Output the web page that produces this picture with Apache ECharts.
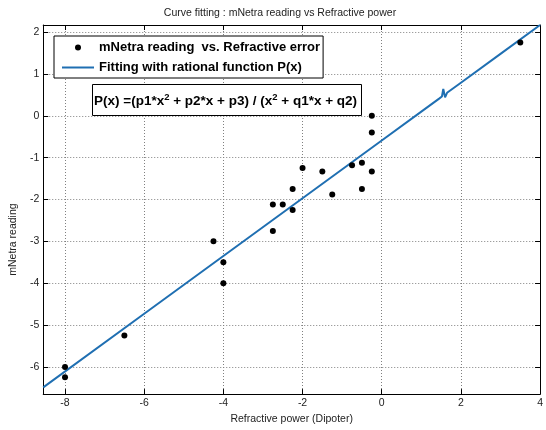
<!DOCTYPE html>
<html>
<head>
<meta charset="utf-8">
<script src="https://cdn.jsdelivr.net/npm/echarts@6/dist/echarts.min.js"></script>
<style>html,body{margin:0;padding:0;background:#fff}#c{width:546px;height:430px}</style>
</head>
<body>
<div id="c"></div>
<script>
// Measured data points (Refractive power, mNetra reading)
const scatterX = [-8, -8, -6.5, -4.25, -4, -4, -2.75, -2.75, -2.5, -2.25, -2.25, -2, -1.5, -1.25, -0.75, -0.5, -0.5, -0.25, -0.25, -0.25, 3.5];
const scatterY = [-6, -6.25, -5.25, -3, -3.5, -4, -2.12, -2.75, -2.12, -1.75, -2.25, -1.25, -1.33, -1.88, -1.18, -1.12, -1.75, 0, -0.4, -1.33, 1.75];
// Fitted rational curve read along its path
const fitX = [-8.55, -6, -4, -2, 0, 1, 1.45, 1.52, 1.555, 1.6, 1.65, 2, 3, 4];
const fitY = [-6.49, -4.73, -3.35, -1.97, -0.59, 0.10, 0.41, 0.46, 0.64, 0.44, 0.55, 0.79, 1.48, 2.17];
// Tick values
const xTicks = [-8, -6, -4, -2, 0, 2, 4];
const yTicks = [-6, -5, -4, -3, -2, -1, 0, 1, 2];

const scatterName = 'mNetra reading  vs. Refractive error';
const fitName = 'Fitting with rational function P(x)';
const FONT = 'Liberation Sans, Arial, sans-serif';

const chart = echarts.init(document.getElementById('c'), null, {renderer: 'canvas'});
const gridStyle = {show: true, lineStyle: {color: '#808080', width: 1, type: [1, 2]}};
const xBase = {type: 'value', min: -8.55, max: 4, axisLine: {onZero: false, lineStyle: {color: '#000', width: 1}}};
const yBase = {type: 'value', min: -6.65, max: 2.17, axisLine: {onZero: false, lineStyle: {color: '#000', width: 1}}};

chart.setOption({
  backgroundColor: '#fff',
  animation: false,
  title: [
    {text: 'Curve fitting : mNetra reading vs Refractive power', left: 280, textAlign: 'center', top: 7, padding: 0,
     textStyle: {fontSize: 10.5, fontWeight: 'normal', color: '#222', fontFamily: FONT, lineHeight: 12}},
    {text: '{n|P(x) =(p1*x}{s|2}{n| + p2*x + p3) / (x}{s|2}{n| + q1*x + q2)}', left: 92, top: 84,
     padding: [8, 5, 8, 2], borderColor: '#000', borderWidth: 1, backgroundColor: '#fff',
     textStyle: {fontFamily: FONT, fontWeight: 'bold', fontSize: 13.5, color: '#000',
       rich: {n: {fontFamily: FONT, fontWeight: 'bold', fontSize: 13.5, color: '#000', lineHeight: 16, verticalAlign: 'bottom'},
              s: {fontFamily: FONT, fontWeight: 'bold', fontSize: 9.5, color: '#000', lineHeight: 16, verticalAlign: 'top'}}}}
  ],
  legend: {
    orient: 'vertical', left: 54, top: 36, itemWidth: 32, itemHeight: 6, itemGap: 5,
    padding: [4, 3, 3, 7], borderColor: '#000', borderWidth: 1, backgroundColor: '#fff',
    textStyle: {fontSize: 13, fontWeight: 'bold', color: '#000', fontFamily: FONT, lineHeight: 15},
    data: [
      {name: scatterName},
      {name: fitName, itemStyle: {color: 'rgba(0,0,0,0)', borderColor: 'rgba(0,0,0,0)', borderWidth: 0}}
    ]
  },
  grid: {left: 39, right: 3, top: 25, bottom: 33, containLabel: false},
  xAxis: [
    Object.assign({}, xBase, {position: 'bottom', name: 'Refractive power (Dipoter)', nameLocation: 'middle', nameGap: 17,
      nameTextStyle: {fontSize: 10.5, color: '#222', fontFamily: FONT},
      axisTick: {show: true, inside: true, length: 5, lineStyle: {color: '#000'}, customValues: xTicks},
      axisLabel: {show: true, margin: 4, fontSize: 10.5, color: '#222', fontFamily: FONT, customValues: xTicks},
      splitLine: gridStyle}),
    Object.assign({}, xBase, {position: 'top',
      axisTick: {show: true, inside: true, length: 5, lineStyle: {color: '#000'}, customValues: xTicks},
      axisLabel: {show: false}, splitLine: {show: false}})
  ],
  yAxis: [
    Object.assign({}, yBase, {position: 'left', name: 'mNetra reading', nameLocation: 'middle', nameGap: 21,
      nameTextStyle: {fontSize: 10.5, color: '#222', fontFamily: FONT, padding: [0, 60, 0, 0]},
      axisTick: {show: true, inside: true, length: 5, lineStyle: {color: '#000'}, customValues: yTicks},
      axisLabel: {show: true, margin: 4, fontSize: 10.5, color: '#222', fontFamily: FONT, customValues: yTicks},
      splitLine: gridStyle}),
    Object.assign({}, yBase, {position: 'right',
      axisTick: {show: true, inside: true, length: 5, lineStyle: {color: '#000'}, customValues: yTicks},
      axisLabel: {show: false}, splitLine: {show: false}})
  ],
  series: [
    {name: scatterName, type: 'scatter', xAxisIndex: 0, yAxisIndex: 0, symbol: 'circle', symbolSize: 6,
     itemStyle: {color: '#000', opacity: 1}, z: 3,
     data: scatterX.map((x, i) => [x, scatterY[i]])},
    {name: fitName, type: 'line', xAxisIndex: 0, yAxisIndex: 0, symbol: 'none', showSymbol: false,
     lineStyle: {color: '#1f6fb2', width: 2}, itemStyle: {color: '#1f6fb2'}, clip: true, z: 2,
     data: fitX.map((x, i) => [x, fitY[i]])}
  ]
});
</script>
</body>
</html>
